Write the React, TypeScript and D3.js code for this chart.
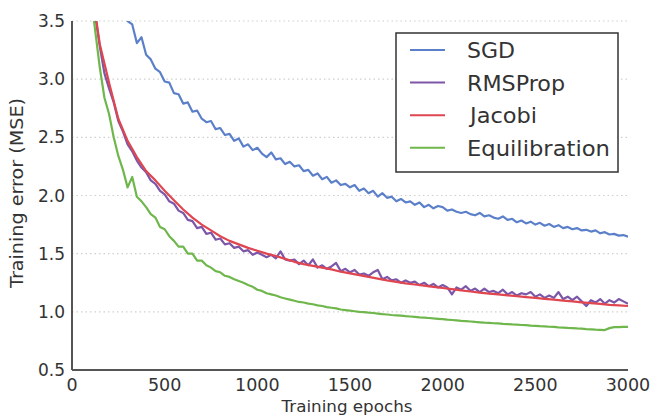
import React from "react";
import * as d3 from "d3";

// ---- data ----
const xTicks = [0, 500, 1000, 1500, 2000, 2500, 3000];
const yTicks = [0.5, 1.0, 1.5, 2.0, 2.5, 3.0, 3.5];
const seriesNames = ["SGD", "RMSProp", "Jacobi", "Equilibration"];

const sgdEpochs = d3.range(275, 3001, 25);
const sgdValues = [
  3.62, 3.50, 3.47, 3.31, 3.36, 3.21, 3.17, 3.09, 3.06, 2.98,
  2.97, 2.88, 2.87, 2.79, 2.80, 2.72, 2.73, 2.66, 2.63, 2.64,
  2.57, 2.58, 2.52, 2.53, 2.47, 2.49, 2.42, 2.44, 2.39, 2.41,
  2.36, 2.33, 2.37, 2.31, 2.32, 2.27, 2.29, 2.25, 2.26, 2.21,
  2.22, 2.17, 2.19, 2.14, 2.16, 2.11, 2.13, 2.09, 2.10, 2.07,
  2.09, 2.04, 2.06, 2.02, 2.04, 1.99, 2.02, 1.98, 1.99, 1.95,
  1.97, 1.94, 1.95, 1.92, 1.94, 1.90, 1.92, 1.89, 1.91, 1.90,
  1.87, 1.88, 1.86, 1.85, 1.86, 1.84, 1.83, 1.85, 1.82, 1.83,
  1.81, 1.80, 1.82, 1.79, 1.80, 1.77, 1.785, 1.76, 1.775, 1.75,
  1.765, 1.74, 1.755, 1.73, 1.745, 1.72, 1.73, 1.71, 1.72, 1.70,
  1.705, 1.69, 1.70, 1.675, 1.685, 1.665, 1.67, 1.655, 1.66, 1.645,
];

const rmsEpochs = d3.range(100, 3001, 25);
const rmsValues = [
  3.80, 3.55, 3.28, 3.05, 2.92, 2.80, 2.64, 2.55, 2.44, 2.38,
  2.30, 2.24, 2.20, 2.13, 2.10, 2.04, 2.01, 1.95, 1.93, 1.87,
  1.85, 1.79, 1.78, 1.72, 1.73, 1.67, 1.68, 1.62, 1.63, 1.58,
  1.59, 1.55, 1.56, 1.52, 1.53, 1.49, 1.51,
  1.49, 1.47, 1.49, 1.46, 1.52, 1.45, 1.44, 1.45, 1.41, 1.44,
  1.40, 1.45, 1.38, 1.40, 1.37, 1.39, 1.42, 1.35, 1.37, 1.34,
  1.36, 1.32, 1.33, 1.31, 1.34, 1.36, 1.28, 1.30, 1.27, 1.28,
  1.25, 1.27, 1.25, 1.26, 1.23, 1.25, 1.22, 1.24, 1.21, 1.23,
  1.21, 1.15, 1.21, 1.19, 1.22, 1.18, 1.20, 1.17, 1.20, 1.17,
  1.18, 1.16, 1.19, 1.15, 1.17, 1.14, 1.16, 1.15, 1.17, 1.13,
  1.15, 1.12, 1.14, 1.12, 1.17, 1.11, 1.13, 1.10, 1.13, 1.09,
  1.05, 1.10, 1.08, 1.11, 1.07, 1.10, 1.08, 1.11, 1.09, 1.07,
];

const jacobiEpochs = d3.range(100, 3001, 50);
const jacobiValues = [
  3.85, 3.30, 2.97, 2.66, 2.47, 2.33, 2.21, 2.13, 2.04, 1.96,
  1.88, 1.81, 1.75, 1.70, 1.65, 1.61, 1.58, 1.55, 1.525, 1.50,
  1.48, 1.455, 1.43, 1.41, 1.395, 1.38, 1.365, 1.345, 1.33, 1.315,
  1.30, 1.285, 1.27, 1.257, 1.245, 1.235, 1.225, 1.215, 1.205, 1.195,
  1.185, 1.175, 1.165, 1.157, 1.15, 1.142, 1.135, 1.127, 1.12, 1.112,
  1.105, 1.097, 1.09, 1.082, 1.075, 1.068, 1.06, 1.055, 1.05,
];

const equilEpochs = d3.range(100, 3001, 25);
const equilValues = [
  3.75, 3.42, 3.10, 2.84, 2.70, 2.50, 2.34, 2.22, 2.07, 2.16,
  1.99, 1.95, 1.90, 1.84, 1.81, 1.73, 1.71, 1.65, 1.61, 1.56,
  1.56, 1.50, 1.50, 1.44, 1.44, 1.40, 1.38, 1.35, 1.34, 1.31,
  1.30, 1.28, 1.265, 1.25, 1.23, 1.215, 1.19, 1.18, 1.16, 1.15,
  1.14, 1.125, 1.115, 1.105, 1.095, 1.085, 1.08, 1.07, 1.065, 1.055,
  1.05, 1.04, 1.035, 1.03, 1.02, 1.015, 1.01, 1.005, 1.0, 0.997,
  0.993, 0.99, 0.985, 0.98, 0.977, 0.973, 0.97, 0.967, 0.963, 0.96,
  0.957, 0.953, 0.95, 0.947, 0.943, 0.94, 0.937, 0.933, 0.93, 0.927,
  0.923, 0.92, 0.917, 0.913, 0.91, 0.907, 0.905, 0.902, 0.9, 0.897,
  0.895, 0.892, 0.89, 0.887, 0.885, 0.882, 0.88, 0.877, 0.875, 0.872,
  0.87, 0.867, 0.865, 0.862, 0.86, 0.857, 0.855, 0.852, 0.85, 0.847,
  0.845, 0.843, 0.86, 0.868, 0.868, 0.87, 0.87,
];

// ---- styling ----
const W = 654;
const H = 418;
const left = 72;
const right = 628;
const top = 21;
const bottom = 370;
const colors = ["#5b80c9", "#7c56a8", "#df4650", "#6fb74c"];
const legendTextWidths = [48, 98, 67, 143];
const font = "'DejaVu Sans', sans-serif";
const textColor = "#333";

export default function App() {
  const x = d3.scaleLinear().domain([0, 3000]).range([left, right]);
  const y = d3.scaleLinear().domain([0.5, 3.5]).range([bottom, top]);

  const series = [
    { name: seriesNames[0], xs: sgdEpochs, ys: sgdValues, color: colors[0] },
    { name: seriesNames[1], xs: rmsEpochs, ys: rmsValues, color: colors[1] },
    { name: seriesNames[2], xs: jacobiEpochs, ys: jacobiValues, color: colors[2] },
    { name: seriesNames[3], xs: equilEpochs, ys: equilValues, color: colors[3] },
  ];

  const line = d3
    .line<[number, number]>()
    .x((d) => x(d[0]))
    .y((d) => y(d[1]));

  const legendX = 396;
  const legendY = 33;
  const rowH = 32.6;

  return (
    <svg
      width={W}
      height={H}
      style={{ position: "absolute", left: 0, top: 0, background: "#fff" }}
      fontFamily={font}
    >
      <defs>
        <clipPath id="plot">
          <rect x={left} y={top} width={right - left} height={bottom - top} />
        </clipPath>
      </defs>
      <rect x={0} y={0} width={W} height={H} fill="#fff" />

      {/* grid */}
      {yTicks.slice(1).map((t) => (
        <line
          key={"g" + t}
          x1={left}
          x2={right}
          y1={y(t)}
          y2={y(t)}
          stroke="#cfcfcf"
          strokeWidth={1.2}
          strokeDasharray="1.5,3"
        />
      ))}

      {/* series */}
      <g clipPath="url(#plot)">
        {series.map((s) => (
          <path
            key={s.name}
            d={line(s.xs.map((e, i) => [e, s.ys[i]] as [number, number])) || ""}
            fill="none"
            stroke={s.color}
            strokeWidth={2.2}
            strokeLinejoin="round"
          />
        ))}
      </g>

      {/* axes */}
      <line x1={left} x2={left} y1={top} y2={bottom} stroke="#555" strokeWidth={2} />
      <line x1={left} x2={right} y1={bottom} y2={bottom} stroke="#555" strokeWidth={2} />

      {yTicks.map((t) => (
        <text
          key={"yt" + t}
          x={65}
          y={y(t)}
          dy="0.36em"
          textAnchor="end"
          fontSize={17}
          fill={textColor}
        >
          {t.toFixed(1)}
        </text>
      ))}
      {xTicks.map((t) => (
        <text
          key={"xt" + t}
          x={x(t)}
          y={391}
          textAnchor="middle"
          fontSize={17.5}
          fill={textColor}
        >
          {t}
        </text>
      ))}

      <text
        x={347}
        y={412}
        textAnchor="middle"
        fontSize={16.5}
        fill={textColor}
        textLength={131}
        lengthAdjust="spacingAndGlyphs"
      >
        Training epochs
      </text>
      <text
        transform="translate(23,193) rotate(-90)"
        textAnchor="middle"
        fontSize={17}
        fill={textColor}
        textLength={190}
        lengthAdjust="spacingAndGlyphs"
      >
        Training error (MSE)
      </text>

      {/* legend */}
      <rect
        x={legendX}
        y={legendY}
        width={222}
        height={139}
        fill="#fff"
        stroke="#333"
        strokeWidth={1.5}
      />
      {series.map((s, i) => (
        <g key={"lg" + s.name}>
          <line
            x1={410}
            x2={445}
            y1={50 + i * rowH}
            y2={50 + i * rowH}
            stroke={s.color}
            strokeWidth={2}
          />
          <text
            x={s.name === "Jacobi" ? 470 : 467}
            y={58 + i * rowH}
            fontSize={21}
            fill={textColor}
            textLength={legendTextWidths[i]}
            lengthAdjust="spacingAndGlyphs"
          >
            {s.name}
          </text>
        </g>
      ))}
    </svg>
  );
}
